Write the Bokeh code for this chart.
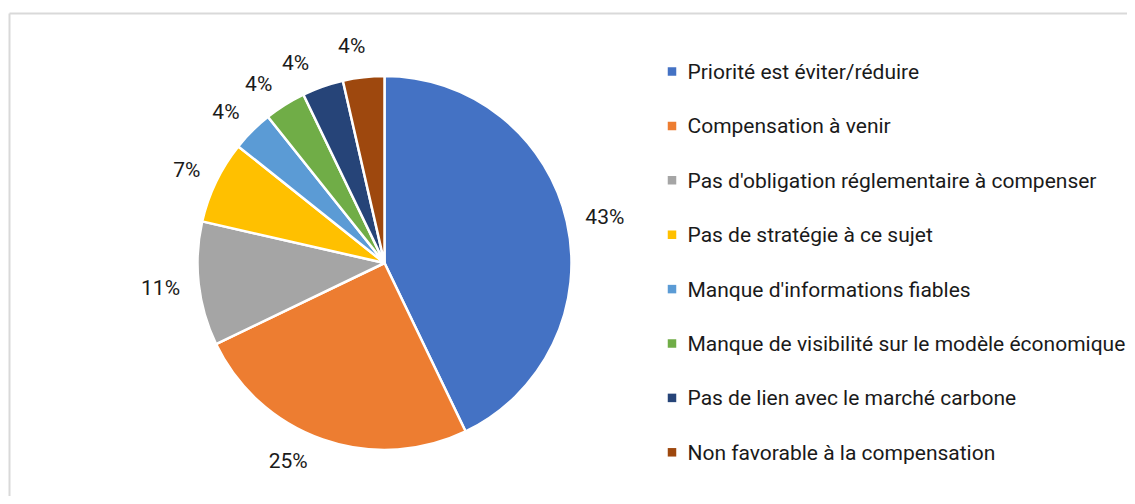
import numpy as np
from bokeh.plotting import figure
from bokeh.models import Range1d, ColumnDataSource
from bokeh.embed import file_html
from bokeh.resources import INLINE
from bokeh.core.properties import value

categories = [
    "Priorité est éviter/réduire",
    "Compensation à venir",
    "Pas d'obligation réglementaire à compenser",
    "Pas de stratégie à ce sujet",
    "Manque d'informations fiables",
    "Manque de visibilité sur le modèle économique",
    "Pas de lien avec le marché carbone",
    "Non favorable à la compensation",
]
counts = [12, 7, 3, 2, 1, 1, 1, 1]
colors = ["#4472C4", "#ED7D31", "#A5A5A5", "#FFC000",
          "#5B9BD5", "#70AD47", "#264478", "#9E480E"]

# layout tweak: angular shift (degrees, clockwise) of the outside labels,
# mimicking the spreadsheet's label de-overlap placement
label_shift_deg = [0.7, 6.0, 0.0, -0.5, -1.5, -3.0, -4.7, -2.2]

FONT = "Roboto"
W, H = 1127, 496

def py(y):  # page y -> data y
    return H - y

p = figure(width=W, height=H, output_backend="svg", toolbar_location=None,
           x_range=Range1d(0, W), y_range=Range1d(0, H),
           min_border=0)
p.axis.visible = False
p.grid.visible = False
p.outline_line_color = None
p.background_fill_color = "white"
p.border_fill_color = "white"

# chart border (extends past the window on right/bottom)
p.segment(x0=[9, 9], y0=[py(13), py(13)], x1=[1200, 9], y1=[py(13), -50],
          line_color="#d9d9d9", line_width=2)

# pie
cx, cy, R = 384, py(262.5), 187
vals = np.array(counts, dtype=float)
frac = vals / vals.sum()
cum = np.concatenate([[0], np.cumsum(frac)])
start = np.pi / 2 - cum[1:] * 2 * np.pi
end = np.pi / 2 - cum[:-1] * 2 * np.pi
src = ColumnDataSource(dict(start=start, end=end, color=colors))
p.wedge(x=cx, y=cy, radius=R, start_angle="start", end_angle="end",
        fill_color="color", line_color="white", line_width=2.5, source=src)

# percentage labels (outside end)
labels = [f"{round(f * 100)}%" for f in frac]
mid = (start + end) / 2 - np.radians(label_shift_deg)
dx, dy = np.cos(mid), np.sin(mid)
hw = np.array([6.8 * len(s) for s in labels])
hh = 14.0
lx = cx + 205 * dx + dx * hw
ly = cy + 205 * dy + dy * hh
p.text(x=lx, y=ly, text=labels, text_align="center", text_baseline="middle",
       text_font=value(FONT), text_font_size="21px", text_color="#1a1a1a")

# legend
n = len(categories)
leg_y = [py(71 + i * 54.4) for i in range(n)]
p.scatter(x=[671.5] * n, y=leg_y, marker="square", size=8.5,
          fill_color=colors, line_color=None)
p.text(x=[687] * n, y=[v - 0.5 for v in leg_y], text=categories,
       text_align="left", text_baseline="middle",
       text_font=value(FONT), text_font_size="21px", text_color="#1a1a1a")

open("out.html", "w").write(file_html(p, INLINE))
